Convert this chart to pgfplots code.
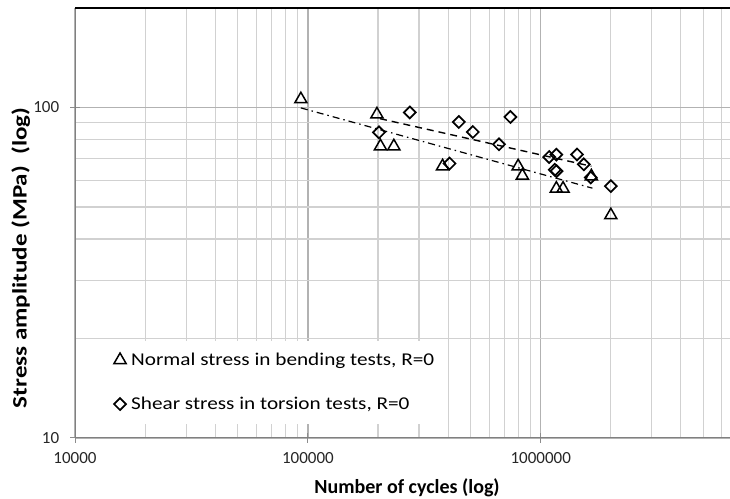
\documentclass[border=0pt]{standalone}
\usepackage{pgfplots}
\pgfplotsset{compat=1.18}
\usepackage{fontspec}
\setmainfont{Carlito}
\newfontfamily\legfont[FakeStretch=1.18]{Carlito}
\newfontfamily\ylabfont[FakeStretch=1.22]{Carlito}
\begin{document}
\fontsize{17}{20}\selectfont
\begin{tikzpicture}
\begin{axis}[
  xmode=log, ymode=log,
  scale only axis,
  width=655pt, height=430pt,
  xmin=1e4, xmax=6.5e6, ymin=10, ymax=200,
  xtick={1e4,1e5,1e6}, xticklabels={10000,100000,1000000},
  ytick={10,100}, yticklabels={10,100},
  minor xtick={2e4,3e4,4e4,5e4,6e4,7e4,8e4,9e4,2e5,3e5,4e5,5e5,6e5,7e5,8e5,9e5,2e6,3e6,4e6,5e6,6e6},
  minor ytick={20,30,40,50,60,70,80,90},
  grid=both,
  major grid style={color=black!30, line width=1.4pt},
  minor grid style={color=black!18, line width=1.1pt},
  axis line style={draw=none},
  tick pos=left,
  major tick length=10pt, tick align=center, minor tick length=0pt,
  tick style={color=black!45, line width=1pt},
  ticklabel style={font=\fontsize{17}{20}\selectfont, text=black!85},
  xticklabel style={yshift=-4pt},
  yticklabel style={xshift=-5pt},
  /pgf/number format/assume math mode=true,
  xlabel={\textbf{Number of cycles (log)}},
  ylabel={\textbf{\ylabfont Stress amplitude (MPa)\ \ (log)}},
  every axis x label/.style={at={(rel axis cs:0.507,-0.116)}, anchor=center, font=\fontsize{20}{24}\selectfont},
  every axis y label/.style={at={(rel axis cs:-0.083,0.419)}, rotate=90, anchor=center, font=\fontsize{20.5}{24}\selectfont},
  legend style={at={(rel axis cs:0.047,0.033)}, anchor=south west, draw=none, fill=white,
    font=\fontsize{18}{21}\selectfont\legfont, row sep=25pt, inner xsep=8pt, inner ysep=10pt,
    cells={anchor=west}, /tikz/every odd column/.append style={column sep=3pt}},
  legend image code/.code={\draw[#1] plot coordinates {(0.1cm,0cm)};},
]
\addplot[black, line width=1.2pt, dash pattern=on 7pt off 4pt on 1.5pt off 4pt, forget plot]
  coordinates {(93300,99.7) (1667000,57)};
\addplot[black, line width=1.4pt, dash pattern=on 7pt off 5pt, forget plot]
  coordinates {(204000,92.5) (1650000,66.4)};
\addplot[only marks, mark=triangle, mark size=7pt, mark options={black, line width=1.5pt}]
  coordinates {
  (93300,105.9) (198000,95.3) (205000,76.3) (234000,76.3) (379000,66.4)
  (800000,66.4) (834000,62.2) (1167000,56.8) (1247000,56.8) (1650000,61.9) (2000000,47.2)
  };
\addlegendentry{Normal stress in bending tests, R=0}
\addplot[only marks, mark=square, mark size=4.2pt, mark options={black, line width=1.7pt, rotate=45}]
  coordinates {
  (202000,84.1) (274000,96.6) (406000,67.7) (445000,90.4) (511000,84.3) (662000,77.4)
  (741000,93.6) (1087000,70.8) (1167000,72.0) (1150000,64.8) (1170000,64.2)
  (1432000,72.1) (1531000,67.3) (1640000,61.4) (2000000,57.8)
  };
\addlegendentry{Shear stress in torsion tests, R=0}
\draw[line width=1.5pt, black!50] (rel axis cs:0,0) -- (rel axis cs:0,1);
\draw[line width=2pt, black!50] (rel axis cs:0,0) -- (rel axis cs:1,0);
\draw[line width=2.5pt, black] (rel axis cs:0,1) -- (rel axis cs:1,1);
\coordinate (bl) at ([xshift=-75pt,yshift=-60pt]rel axis cs:0,0);
\coordinate (tr) at ([yshift=8pt]rel axis cs:1,1);
\end{axis}
\pgfresetboundingbox
\useasboundingbox (bl) rectangle (tr);
\end{tikzpicture}
\end{document}
